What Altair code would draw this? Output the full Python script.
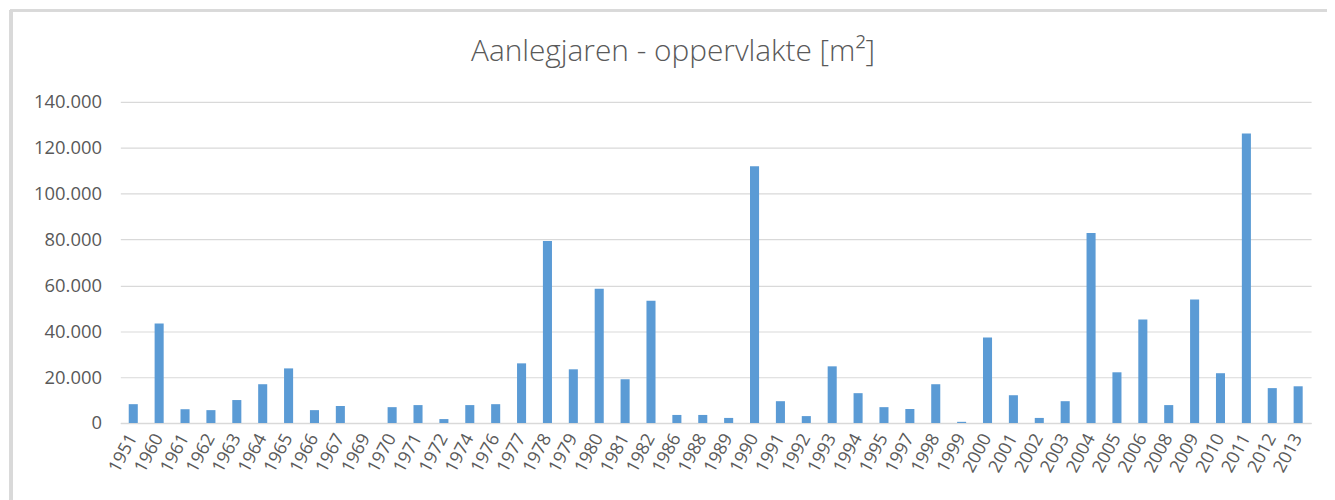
import altair as alt
import pandas as pd

TITLE = "Aanlegjaren - oppervlakte [m²]"

years = ["1951", "1960", "1961", "1962", "1963", "1964", "1965", "1966", "1967", "1969",
         "1970", "1971", "1972", "1974", "1976", "1977", "1978", "1979", "1980", "1981",
         "1982", "1986", "1988", "1989", "1990", "1991", "1992", "1993", "1994", "1995",
         "1997", "1998", "1999", "2000", "2001", "2002", "2003", "2004", "2005", "2006",
         "2008", "2009", "2010", "2011", "2012", "2013"]
area = [8200, 43400, 6000, 5600, 10000, 16900, 23800, 5600, 7400, 0,
        6900, 7800, 1700, 7800, 8200, 26000, 79400, 23400, 58500, 19100,
        53300, 3500, 3500, 2200, 111900, 9500, 3000, 24700, 13000, 6900,
        6100, 16900, 500, 37300, 12100, 2200, 9500, 82800, 22100, 45100,
        7800, 53800, 21700, 126200, 15200, 16000]
y_ticks = [0, 20000, 40000, 60000, 80000, 100000, 120000, 140000]

df = pd.DataFrame({"jaar": years, "oppervlakte": area})

FONT = "Open Sans"
GREY = "#595959"

bars = alt.Chart(df).mark_bar(color="#5B9BD5").encode(
    x=alt.X("jaar:N", sort=None, title=None,
            scale=alt.Scale(paddingInner=0.65, paddingOuter=0.325),
            axis=alt.Axis(labelAngle=-62, labelFont=FONT, labelFontSize=18,
                          labelColor=GREY, ticks=False, domain=True,
                          domainColor="#d9d9d9", domainWidth=1.5,
                          labelPadding=12, labelAlign="right", labelBaseline="middle")),
    y=alt.Y("oppervlakte:Q", title=None,
            scale=alt.Scale(domain=[0, 140000], nice=False),
            axis=alt.Axis(values=y_ticks, labelFont=FONT, labelFontSize=18.5,
                          labelColor=GREY, ticks=False, domain=False,
                          labelPadding=19, gridColor="#d9d9d9", gridWidth=1.2,
                          labelExpr="replace(format(datum.value, ',d'), ',', '.')")),
)

title = alt.Chart(pd.DataFrame({"t": [TITLE]})).mark_text(
    font=FONT, fontSize=30, fontWeight=300, color=GREY, align="center",
    baseline="alphabetic"
).encode(text="t:N", x=alt.value(556), y=alt.value(-41))

frame_left = alt.Chart(df).mark_rule(color="#d9d9d9", strokeWidth=3).encode(
    x=alt.value(-110), y=alt.value(-92), y2=alt.value(400))
frame_top = alt.Chart(df).mark_rule(color="#d9d9d9", strokeWidth=2).encode(
    x=alt.value(-111), x2=alt.value(1220), y=alt.value(-92))

chart = alt.layer(frame_left, frame_top, title, bars).properties(
    width=1198, height=323,
    autosize=alt.AutoSizeParams(type="none"),
    padding={"left": 113, "top": 93, "right": 16, "bottom": 76},
).configure(background="white").configure_view(stroke=None)

chart.save("out.html", embed_options={"renderer": "svg", "actions": False})
